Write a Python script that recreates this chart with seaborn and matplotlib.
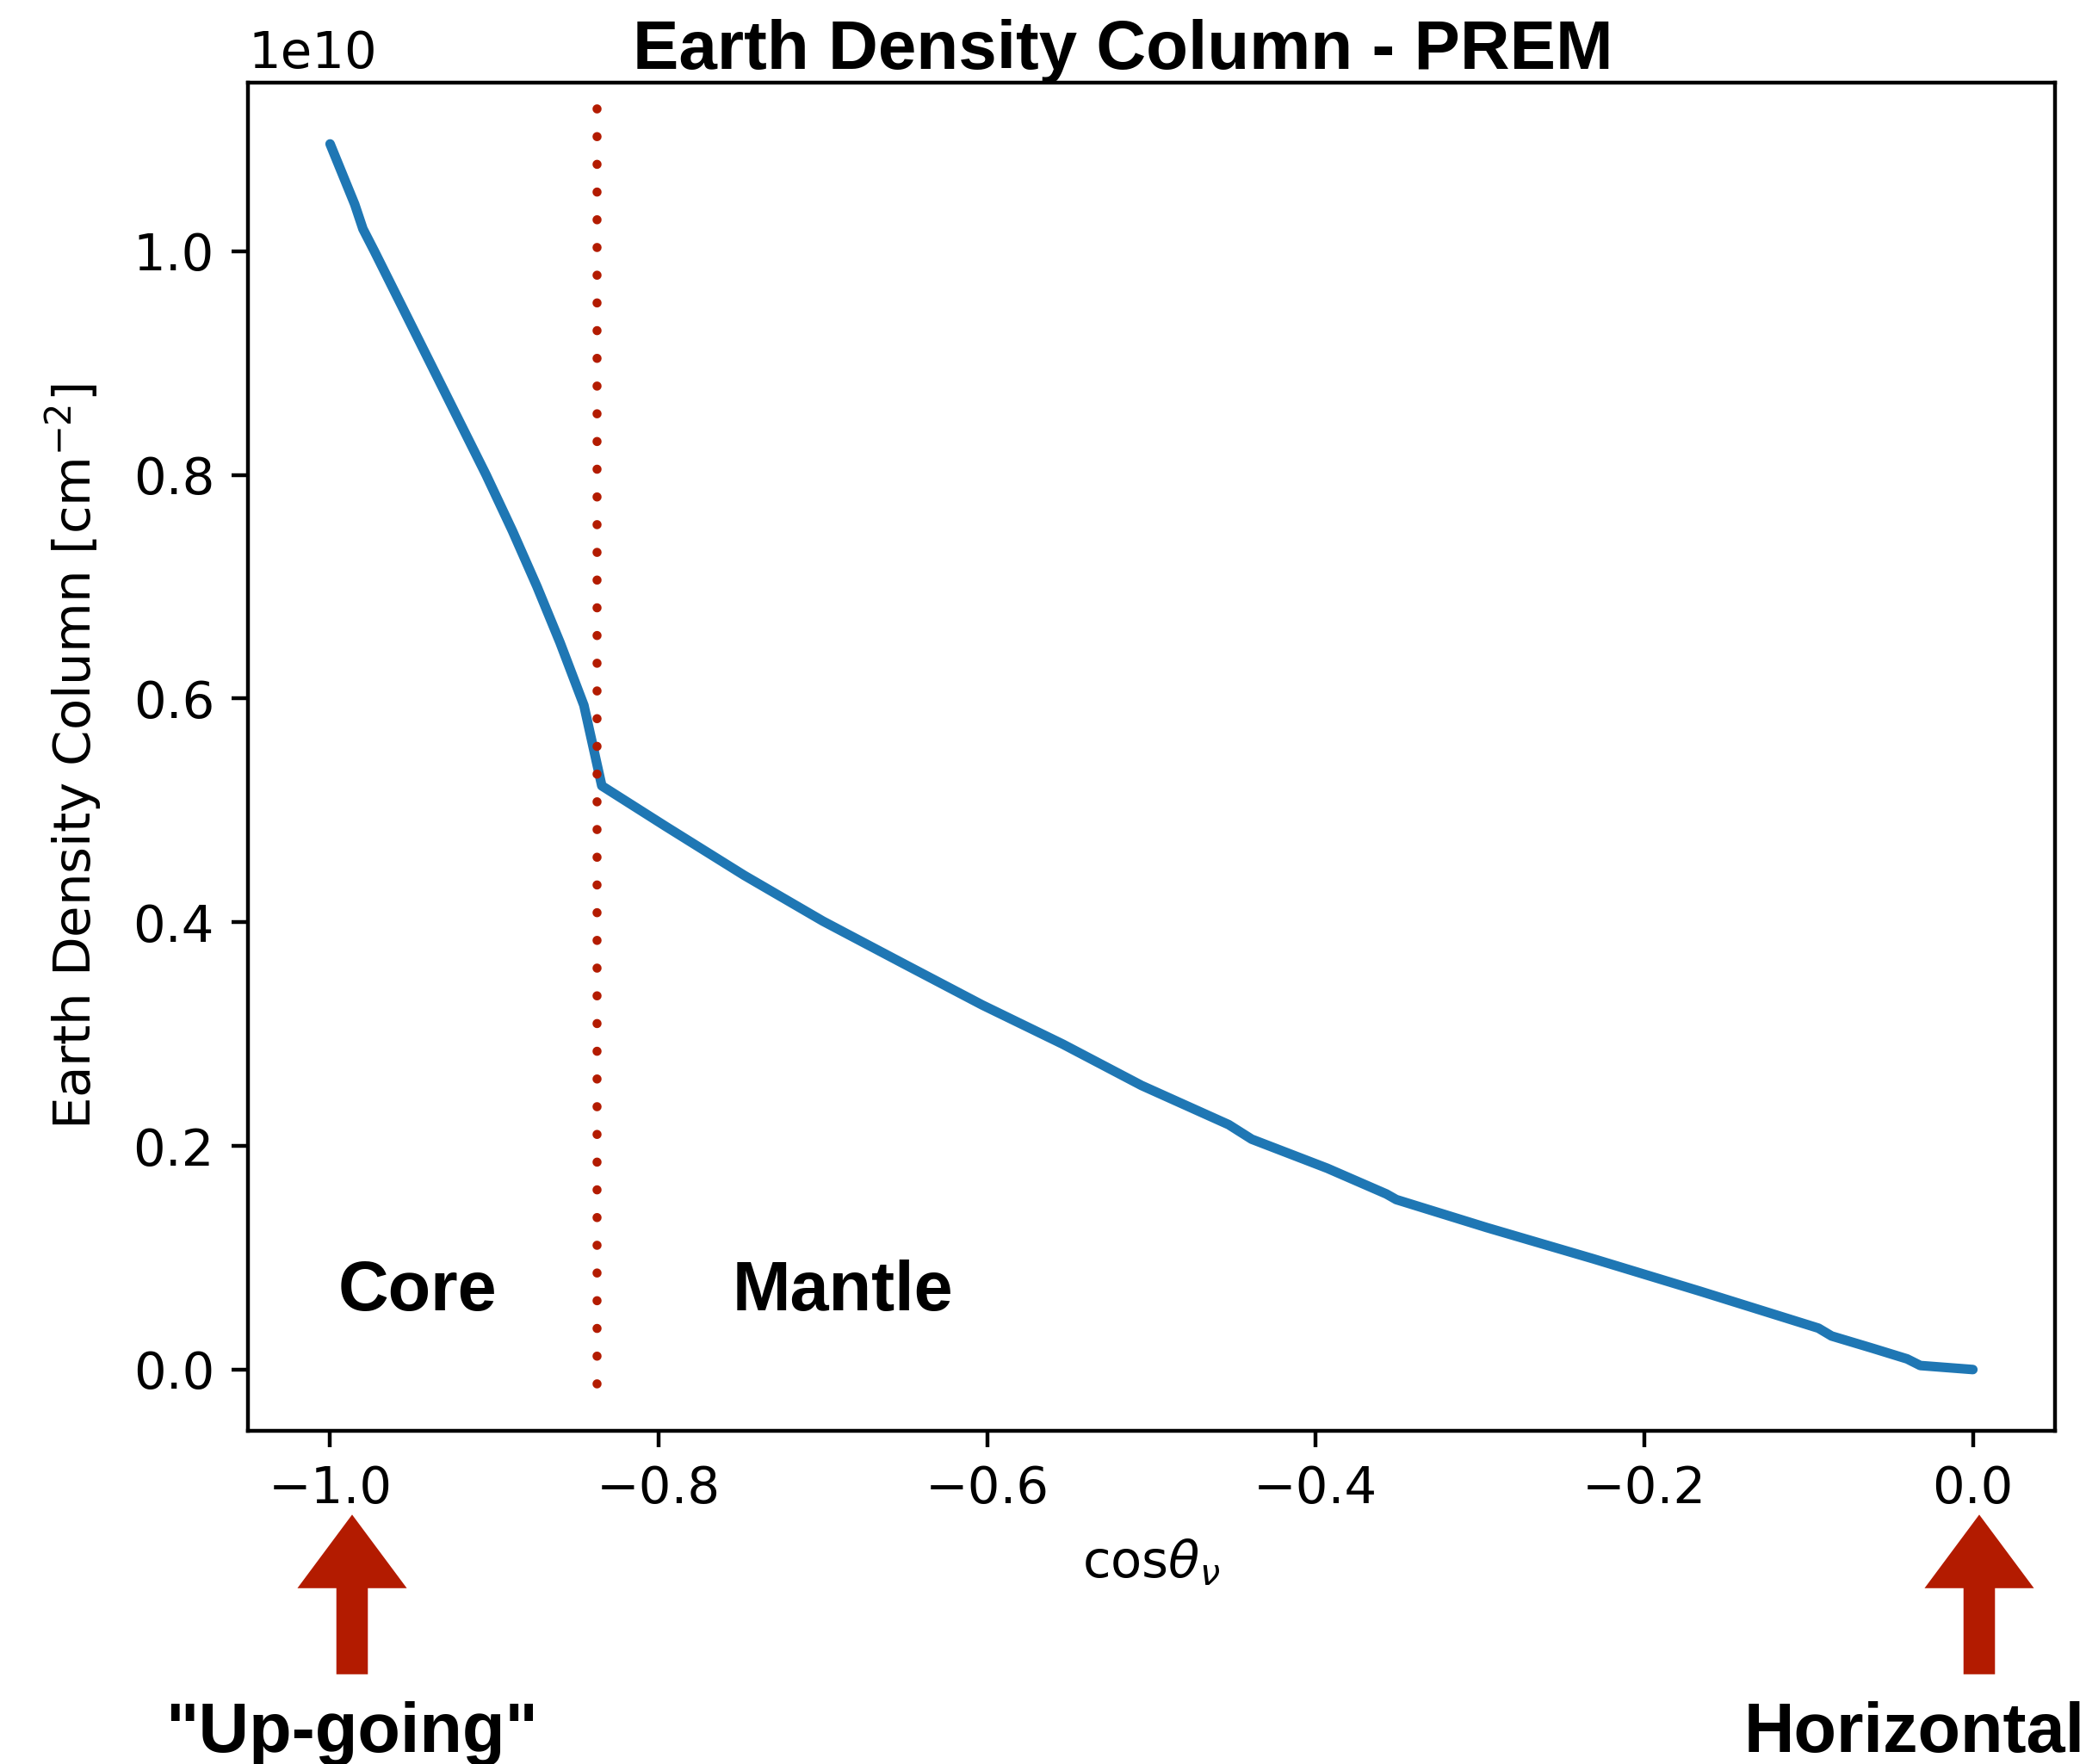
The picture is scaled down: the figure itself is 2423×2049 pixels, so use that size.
import matplotlib
matplotlib.use("Agg")
import matplotlib.pyplot as plt
from matplotlib.patches import FancyArrow
import seaborn as sns
import pandas as pd

# Column density through the Earth (PREM) versus the cosine of the zenith angle
cos_theta = [-1.000, -0.985, -0.980, -0.973, -0.939, -0.905, -0.889, -0.874,
             -0.860, -0.8455, -0.8346, -0.796, -0.748, -0.700, -0.651, -0.603,
             -0.554, -0.506, -0.453, -0.439, -0.393, -0.357, -0.351, -0.296,
             -0.231, -0.166, -0.094, -0.086, -0.061, -0.040, -0.032, 0.000]
column_1e10 = [1.096, 1.042, 1.020, 1.000, 0.900, 0.800, 0.750, 0.700,
               0.650, 0.594, 0.522, 0.486, 0.442, 0.401, 0.363, 0.326,
               0.291, 0.254, 0.219, 0.206, 0.180, 0.157, 0.152, 0.127,
               0.099, 0.070, 0.037, 0.030, 0.019, 0.0095, 0.0036, 0.000]

core_mantle_boundary = -0.8376
region_labels = ["Core", "Mantle"]
region_label_x = [-0.995, -0.755]
region_label_y = 0.053e10
direction_labels = ['"Up-going"', "Horizontal"]

df = pd.DataFrame({"cos": cos_theta,
                   "column": [v * 1e10 for v in column_1e10]})

sns.set_style("ticks", rc={
    "axes.edgecolor": "black",
    "axes.labelcolor": "black",
    "text.color": "black",
    "xtick.color": "black",
    "ytick.color": "black",
    "axes.linewidth": 0.85,
    "xtick.major.width": 0.85,
    "ytick.major.width": 0.85,
    "xtick.major.size": 3.5,
    "ytick.major.size": 3.5,
})
plt.rcParams["font.family"] = ["DejaVu Sans"]
plt.rcParams["font.size"] = 10.7

W, H = 2423, 2049
DPI = 400
fig = plt.figure(figsize=(W / DPI, H / DPI), dpi=DPI)
ax = fig.add_axes([288 / W, 1 - 1662 / H, (2387 - 288) / W, (1662 - 96) / H])

sns.lineplot(data=df, x="cos", y="column", ax=ax, color="#1f77b4",
             linewidth=2.0, sort=False)
ax.axvline(core_mantle_boundary, ymin=0.035, ymax=0.99, color="#b31b00",
           linestyle=(0, (0.01, 3.04)), dash_capstyle="round", linewidth=1.9)

ax.margins(x=0.05, y=0.05)
ax.set_xlabel(r"cos$\theta_\nu$", fontsize=10.7, labelpad=5)
ax.set_ylabel(r"Earth Density Column [cm$^{-2}$]", fontsize=10.7, labelpad=6)
ax.tick_params(labelsize=10.7)
ax.yaxis.get_offset_text().set_fontsize(10.7)

bold = dict(family=["Liberation Sans", "DejaVu Sans"], fontweight="bold",
            fontsize=14.6)
for lbl, xl in zip(region_labels, region_label_x):
    ax.text(xl, region_label_y, lbl, ha="left", va="baseline", **bold)

fig.text(1304 / W, 1 - 80 / H, "Earth Density Column - PREM",
         ha="center", va="baseline",
         **{**bold, "fontsize": 14.4})

# Arrows marking the two extreme directions
red = "#b31b00"
for cx in (409 / W, 2299 / W):
    fig.patches.append(FancyArrow(
        cx, 1 - 1942 / H, 0, (1942 - 1764) / H, width=31 / W,
        head_width=116 / W, head_length=78 / H, length_includes_head=True,
        color=red, transform=fig.transFigure, figure=fig))

fig.text(409 / W, 1 - 2035 / H, direction_labels[0], ha="center",
         va="baseline", **bold)
fig.text(0.9995, 1 - 2035 / H, direction_labels[1], ha="right",
         va="baseline", **bold)

fig.savefig("out.png", dpi=DPI)
